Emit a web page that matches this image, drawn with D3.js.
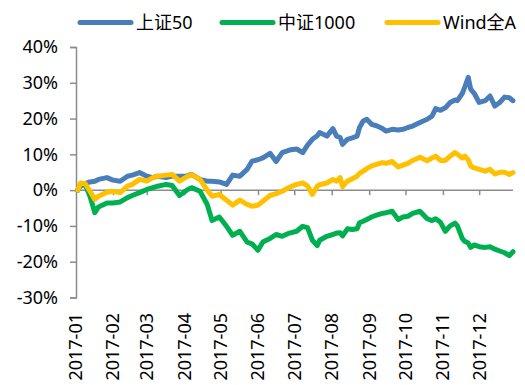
<!DOCTYPE html>
<html>
<head>
<meta charset="utf-8">
<script src="https://cdn.jsdelivr.net/npm/d3@7/dist/d3.min.js"></script>
<style>
  html, body { margin: 0; padding: 0; background: #fff; }
  svg { display: block; font-family: "Noto Sans", "Noto Sans CJK SC", sans-serif; }
</style>
</head>
<body>
<svg id="chart" width="525" height="385"></svg>
<script>
// Cumulative return (%) of three indices through 2017
const dates = [
  "2017-01-03","2017-01-05","2017-01-09","2017-01-13","2017-01-17","2017-01-20","2017-01-27",
  "2017-02-01","2017-02-07","2017-02-13","2017-02-17","2017-02-23",
  "2017-03-01","2017-03-06","2017-03-10","2017-03-17","2017-03-22","2017-03-28",
  "2017-04-03","2017-04-07","2017-04-14","2017-04-20","2017-04-24",
  "2017-04-30","2017-05-06","2017-05-11","2017-05-17","2017-05-23","2017-05-27",
  "2017-06-01","2017-06-05","2017-06-11","2017-06-16","2017-06-21","2017-06-27",
  "2017-07-03","2017-07-08","2017-07-12","2017-07-16","2017-07-20","2017-07-22","2017-07-28",
  "2017-08-02","2017-08-05","2017-08-08","2017-08-10","2017-08-14","2017-08-18","2017-08-22","2017-08-24","2017-08-27",
  "2017-08-30","2017-09-03","2017-09-07","2017-09-12","2017-09-15","2017-09-20","2017-09-25",
  "2017-09-29","2017-10-03","2017-10-07","2017-10-13","2017-10-19","2017-10-23","2017-10-26",
  "2017-10-30","2017-11-03","2017-11-07","2017-11-11","2017-11-13","2017-11-17","2017-11-19","2017-11-22","2017-11-24","2017-11-27",
  "2017-12-01","2017-12-06","2017-12-10","2017-12-14","2017-12-18","2017-12-22","2017-12-26","2017-12-29"
];

const sz50 = [
  0, 1.1, 1.8, 2.3, 2.5, 3.0, 3.5,
  2.8, 2.5, 3.9, 4.2, 4.9,
  3.9, 3.5, 3.9, 3.5, 3.9, 3.9,
  3.9, 4.4, 3.0, 2.5, 2.5,
  2.3, 1.6, 4.2, 3.9, 5.8, 8.1,
  8.5, 9.0, 10.3, 8.0, 10.5, 11.2,
  11.5, 10.5, 12.6, 14.2, 15.2, 16.1, 15.1,
  17.2, 15.1, 14.7, 12.8, 14.2, 14.6, 15.1, 17.5, 19.3,
  19.8, 18.4, 18.0, 17.2, 16.5, 17.0, 16.8,
  17.0, 17.5, 17.9, 18.9, 19.8, 20.7, 22.8,
  22.3, 23.0, 24.5, 25.2, 25.0, 27.0, 28.7, 31.5, 28.2, 27.0,
  24.5, 25.0, 26.3, 23.5, 24.5, 26.0, 25.8, 25.0
];

const zz1000 = [
  0, 1.6, 1.5, -1.7, -6.3, -4.7, -3.6,
  -3.6, -3.3, -2.1, -1.5, -0.7,
  0.2, 0.7, 1.1, 1.6, 1.3, -1.5,
  0.0, 0.7, -0.3, -4.0, -8.5,
  -7.5, -10.1, -12.6, -11.5, -14.5, -15.0,
  -16.8, -14.5, -13.5, -12.4, -12.9, -12.0,
  -11.5, -10.1, -10.5, -14.0, -15.5, -14.0, -12.9,
  -12.4, -12.0, -11.9, -12.8, -10.8, -11.0, -10.8, -9.1, -8.7,
  -8.2, -7.5, -7.0, -6.5, -6.3, -5.9, -8.2,
  -7.5, -7.3, -6.5, -5.9, -8.0, -8.5, -8.0,
  -9.0, -11.5, -10.0, -9.2, -10.0, -13.5, -14.3, -14.8, -16.0, -15.3,
  -15.8, -16.0, -15.8, -16.5, -17.0, -17.5, -18.3, -17.2
];

const windA = [
  0, 2.0, 1.8, -0.3, -2.6, -1.7, -0.6,
  -0.3, -0.7, 1.1, 1.6, 3.0,
  2.5, 3.5, 3.9, 4.2, 4.4, 2.5,
  3.7, 4.3, 3.0, 0.0, -1.7,
  -1.2, -2.8, -4.2, -2.8, -4.0, -4.5,
  -4.2, -3.1, -1.5, -1.0, -0.3, 0.8,
  1.6, 2.0, 1.2, -1.2, 1.1, 1.5, 2.0,
  3.0, 2.5, 3.5, 1.0, 2.5, 3.2, 3.9, 4.7, 5.3,
  6.0, 6.8, 7.2, 7.7, 7.5, 8.0, 6.5,
  7.0, 7.5, 8.3, 9.2, 8.2, 9.0, 9.5,
  8.3, 8.3, 9.5, 10.5, 10.0, 9.0, 9.5, 8.5, 6.7, 6.2,
  5.8, 5.3, 5.8, 4.5, 5.0, 5.0, 4.4, 4.9
];

const seriesNames = ["上证50", "中证1000", "Wind全A"];
const seriesValues = [sz50, zz1000, windA];
const seriesColors = ["#4a7ebb", "#00b050", "#ffc000"];
const yTicks = [-30, -20, -10, 0, 10, 20, 30, 40];
const monthTicks = ["2017-01","2017-02","2017-03","2017-04","2017-05","2017-06",
                    "2017-07","2017-08","2017-09","2017-10","2017-11","2017-12"];

const parse = d3.timeParse("%Y-%m-%d");
const parseMonth = d3.timeParse("%Y-%m");
const dateObjs = dates.map(parse);

const svg = d3.select("#chart");
const axisColor = "#8c8c8c";

const x = d3.scaleTime()
  .domain([parse("2017-01-01"), parse("2017-12-29")])
  .range([75.5, 513]);
const y = d3.scaleLinear().domain([-30, 40]).range([297.5, 47]);

// y axis
const yAxis = d3.axisLeft(y)
  .tickValues(yTicks)
  .tickSize(6)
  .tickPadding(12)
  .tickFormat(d => d + "%");
const gy = svg.append("g").attr("transform", "translate(76,0)").call(yAxis);
gy.select(".domain").attr("stroke", axisColor).attr("stroke-width", 1.5);
gy.selectAll(".tick line").attr("stroke", axisColor).attr("stroke-width", 1.5);
gy.selectAll(".tick text")
  .attr("fill", "#000")
  .style("font-size", "18px")
  .style("font-family", "\"Noto Sans\", sans-serif");

// x axis along the zero line; labels sit below the plot
const monthDates = monthTicks.map(parseMonth);
const xAxis = d3.axisBottom(x)
  .tickValues(monthDates.slice(1))
  .tickSize(5)
  .tickFormat("");
const gx = svg.append("g").attr("transform", `translate(0,${y(0)})`).call(xAxis);
gx.select(".domain").attr("d", `M${x.range()[0]},0H${x.range()[1]}`)
  .attr("stroke", axisColor).attr("stroke-width", 1.5);
gx.selectAll(".tick line").attr("stroke", axisColor).attr("stroke-width", 1.5);

svg.append("g").selectAll("text")
  .data(monthTicks)
  .join("text")
  .attr("transform", (d, i) => `translate(${x(monthDates[i]) + 6.5},313) rotate(-90)`)
  .attr("text-anchor", "end")
  .attr("fill", "#000")
  .style("font-size", "18px")
  .text(d => d);

// series lines
const line = d3.line()
  .x((d, i) => x(dateObjs[i]))
  .y(d => y(d));

svg.append("g").selectAll("path")
  .data(seriesValues)
  .join("path")
  .attr("d", line)
  .attr("fill", "none")
  .attr("stroke", (d, i) => seriesColors[i])
  .attr("stroke-width", 5)
  .attr("stroke-linejoin", "round")
  .attr("stroke-linecap", "round");

// legend
const legendX = [80, 222, 387];
const lg = svg.append("g").selectAll("g")
  .data(seriesNames)
  .join("g")
  .attr("transform", (d, i) => `translate(${legendX[i]},22.5)`);
lg.append("line")
  .attr("x1", 0).attr("x2", 51).attr("y1", 0).attr("y2", 0)
  .attr("stroke", (d, i) => seriesColors[i])
  .attr("stroke-width", 5)
  .attr("stroke-linecap", "round");
lg.append("text")
  .attr("x", 56).attr("y", 0).attr("dy", "0.35em")
  .attr("fill", "#000")
  .style("font-size", "18px")
  .text(d => d);
</script>
</body>
</html>
